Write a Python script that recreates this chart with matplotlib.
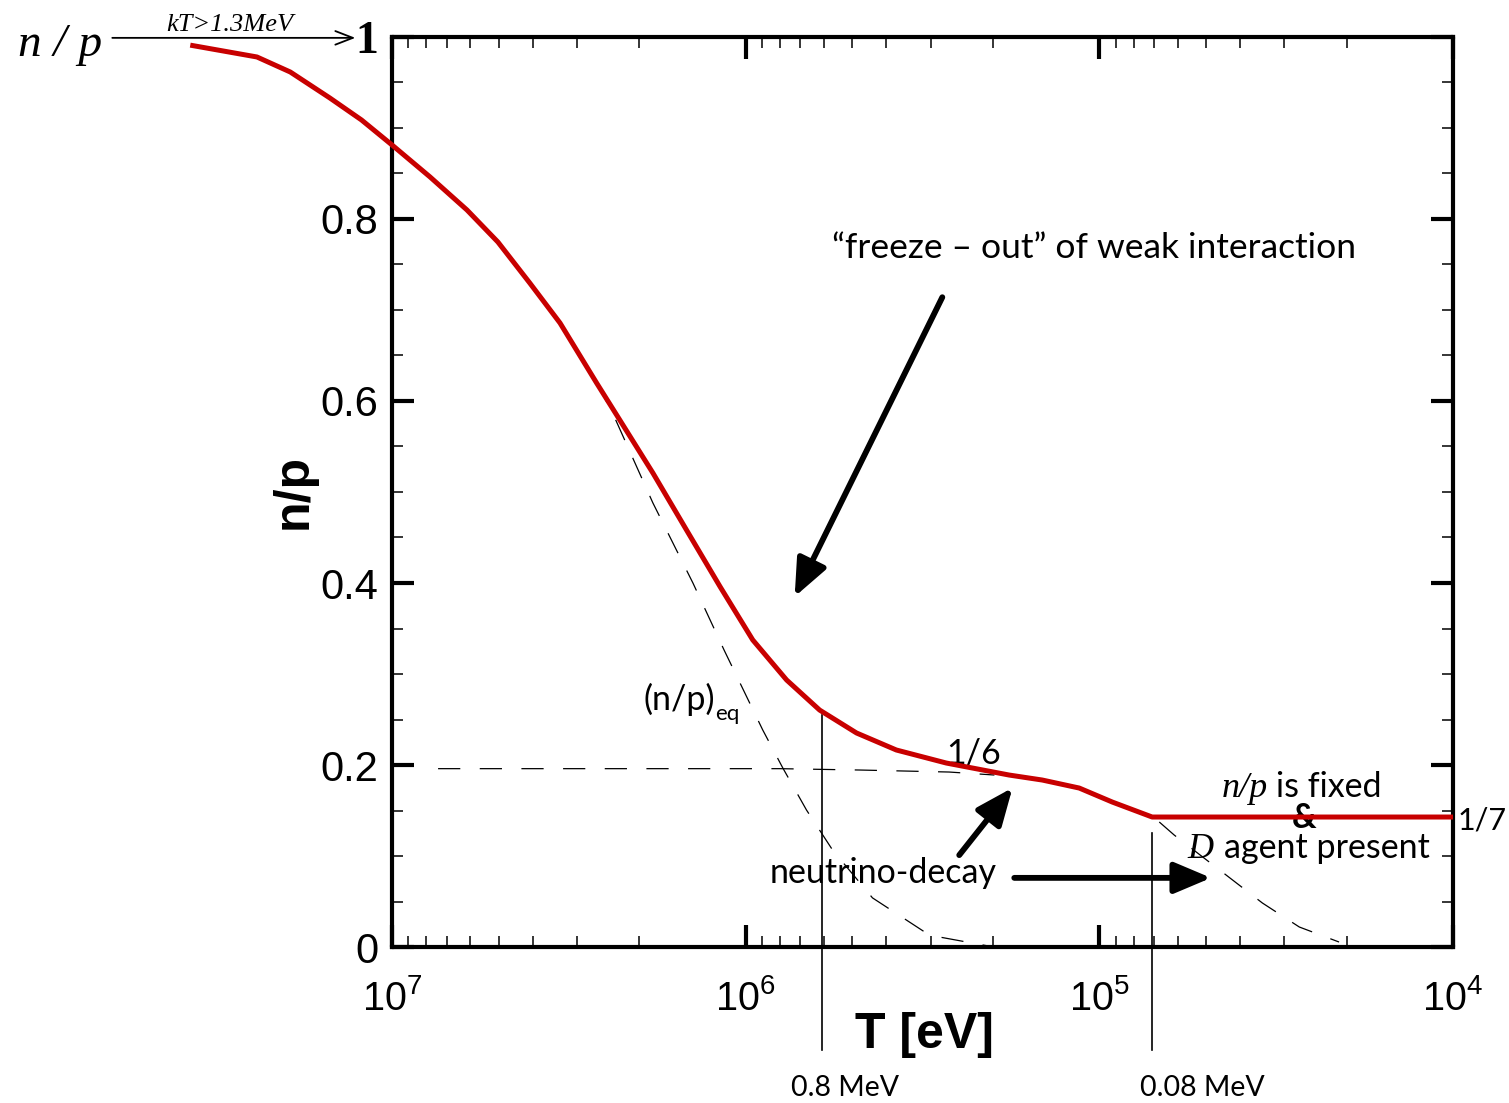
import numpy as np
import matplotlib
matplotlib.use("Agg")
import matplotlib.pyplot as plt
from matplotlib.ticker import LogLocator, MultipleLocator, NullFormatter

# ---- data -------------------------------------------------------------
# neutron-to-proton ratio (full evolution) vs temperature T [eV]
T_np = [3.72e7, 2.41e7, 1.94e7, 1.50e7, 1.22e7, 1.00e7, 7.81e6, 6.14e6,
        5.02e6, 4.08e6, 3.35e6, 2.64e6, 2.27e6, 1.83e6, 1.47e6, 1.18e6,
        9.55e5, 7.66e5, 6.18e5, 4.86e5, 3.75e5, 2.71e5, 1.80e5, 1.45e5,
        1.14e5, 9.19e4, 7.09e4, 1.0e4]
np_ratio = [0.991, 0.978, 0.9615, 0.933, 0.9088, 0.8813, 0.8462, 0.8099,
            0.7747, 0.7297, 0.6857, 0.6198, 0.5791, 0.5209, 0.4582, 0.3956,
            0.3374, 0.2934, 0.2604, 0.2352, 0.2165, 0.2022, 0.1890, 0.1835,
            0.1747, 0.1593, 1 / 7, 1 / 7]

# equilibrium ratio (n/p)_eq
T_eq = [2.64e6, 2.38e6, 1.83e6, 1.41e6, 1.15e6, 8.95e5, 7.86e5, 6.73e5,
        5.68e5, 4.38e5, 3.02e5, 2.05e5]
np_eq = [0.620, 0.587, 0.488, 0.400, 0.326, 0.2385, 0.197, 0.1505,
         0.1066, 0.054, 0.013, 0.001]

# frozen-out ratio without decay
T_frz = [7.41e6, 8.02e5, 4.76e5, 2.66e5, 1.98e5]
np_frz = [0.196, 0.196, 0.1945, 0.1923, 0.189]

# ratio if free neutron decay continued
T_dec = [6.77e4, 6.14e4, 4.38e4, 3.46e4, 2.72e4, 2.10e4]
np_dec = [0.1374, 0.123, 0.0791, 0.0484, 0.022, 0.0055]

# marker temperatures (0.8 MeV and 0.08 MeV)
T_mark = [6.10e5, 7.09e4]
np_mark_top = [0.255, 0.125]
mark_labels = ["0.8 MeV", "0.08 MeV"]
T_mark_label = [5.25e5, 5.12e4]

y_ticks = [0, 0.2, 0.4, 0.6, 0.8, 1.0]
y_ticklabels = ["0", "0.2", "0.4", "0.6", "0.8", "1"]
x_ticks = [1e7, 1e6, 1e5, 1e4]
x_ticklabels = [r"$\mathregular{10^{7}}$", r"$\mathregular{10^{6}}$",
                r"$\mathregular{10^{5}}$", r"$\mathregular{10^{4}}$"]

# ---- style -------------------------------------------------------------
plt.rcParams["font.family"] = ["Liberation Sans", "DejaVu Sans"]
plt.rcParams["mathtext.fontset"] = "custom"
plt.rcParams["mathtext.rm"] = "Liberation Sans"
plt.rcParams["mathtext.it"] = "Liberation Sans:italic"
plt.rcParams["lines.scale_dashes"] = False

ANN = "Lato"
SERIF = "Liberation Serif"
RED = "#c80000"
DASH = (0, (16, 14))
FS = 24.5

fig = plt.figure(figsize=(15.09, 11.03), dpi=100)
ax = fig.add_axes([0.2598, 0.1414, 0.7031, 0.8251])

ax.set_xscale("log")
ax.set_xlim(1e7, 1e4)
ax.set_ylim(0, 1)

# curves
ax.plot(T_frz, np_frz, color="black", lw=0.9, ls=DASH)
ax.plot(T_eq, np_eq, color="black", lw=0.9, ls=DASH)
ax.plot(T_dec, np_dec, color="black", lw=0.9, ls=DASH)
ax.plot(T_np, np_ratio, color=RED, lw=3.6, solid_capstyle="butt",
        solid_joinstyle="round", clip_on=False, zorder=5)

# marker temperatures
for t, top, lab, tl in zip(T_mark, np_mark_top, mark_labels, T_mark_label):
    ax.plot([t, t], [top, -0.113], color="black", lw=1.2, clip_on=False)
    ax.text(tl, -0.164, lab, family=ANN, fontsize=20.5, ha="center",
            va="baseline")

# ---- axes & ticks ------------------------------------------------------
for s in ax.spines.values():
    s.set_linewidth(3.0)

ax.set_xticks(x_ticks)
ax.set_xticklabels(x_ticklabels)
ax.xaxis.set_minor_locator(LogLocator(base=10, subs=np.arange(2, 10)))
ax.xaxis.set_minor_formatter(NullFormatter())
ax.set_yticks(y_ticks)
ax.set_yticklabels(y_ticklabels)
ax.yaxis.set_minor_locator(MultipleLocator(0.05))

ax.tick_params(which="both", direction="in", top=True, right=True)
ax.tick_params(which="major", length=16, width=3)
ax.tick_params(which="minor", length=8, width=1.1)
ax.tick_params(axis="x", which="major", labelsize=28.5, pad=23)
ax.tick_params(axis="y", which="major", labelsize=30, pad=10)

one = ax.get_yticklabels()[-1]
one.set_fontfamily(SERIF)
one.set_fontweight("bold")
one.set_fontsize(33)

ax.set_xlabel("T [eV]", fontsize=36, fontweight="bold")
ax.xaxis.set_label_coords(0.502, -0.071)
ax.set_ylabel("n/p", fontsize=36, fontweight="bold")
ax.yaxis.set_label_coords(-0.0707, 0.5)

# ---- annotations -------------------------------------------------------
ax.text(5.71e5, 0.757, "\u201cfreeze \u2013 out\u201d of weak interaction",
        family=ANN, fontsize=25.5, va="baseline", ha="left")
ax.text(1.95e6, 0.260, "(n/p)", family=ANN, fontsize=FS, va="baseline")
ax.text(1.22e6, 0.250, "eq", family=ANN, fontsize=16, va="baseline")
ax.text(2.71e5, 0.202, "1/6", family=ANN, fontsize=FS, va="baseline")
ax.text(8.55e5, 0.0703, "neutrino-decay", family=ANN, fontsize=FS,
        va="baseline")
ax.text(4.52e4, 0.165, "n/p", family=SERIF, style="italic", fontsize=26,
        va="baseline")
ax.text(3.16e4, 0.165, "is fixed", family=ANN, fontsize=FS, va="baseline")
ax.text(2.64e4, 0.1305, "&", family=ANN, fontsize=FS, va="baseline",
        ha="center", fontweight="bold")
ax.text(5.64e4, 0.0978, "D", family=SERIF, style="italic", fontsize=26,
        va="baseline")
ax.text(4.44e4, 0.0978, "agent present", family=ANN, fontsize=FS,
        va="baseline")
ax.text(7.05e3, 0.1286, "1/7", family=ANN, fontsize=22, va="baseline",
        ha="right")

arrow_kw = dict(arrowstyle="-|>,head_length=0.9,head_width=0.38",
                color="black", lw=4.2, mutation_scale=25,
                shrinkA=0, shrinkB=0)
ax.annotate("", xy=(7.27e5, 0.385), xytext=(2.78e5, 0.714),
            arrowprops=arrow_kw)
ax.annotate("", xy=(1.76e5, 0.175), xytext=(2.49e5, 0.101),
            arrowprops=arrow_kw)
ax.annotate("", xy=(4.83e4, 0.076), xytext=(1.74e5, 0.076),
            arrowprops=arrow_kw)

# high-temperature limit
ax.text(1.14e8, 0.979, "n / p", family=SERIF, style="italic", fontsize=34,
        va="baseline", ha="left")
ax.annotate("", xy=(1.27e7, 0.999), xytext=(6.18e7, 0.999),
            arrowprops=dict(arrowstyle="->,head_length=0.9,head_width=0.35",
                            color="black", lw=1.3, mutation_scale=14,
                            shrinkA=0, shrinkB=0),
            annotation_clip=False)
ax.text(2.87e7, 1.0066, "kT>1.3MeV", family=SERIF, style="italic",
        fontsize=19, va="baseline", ha="center")

fig.savefig("out.png", dpi=100)
